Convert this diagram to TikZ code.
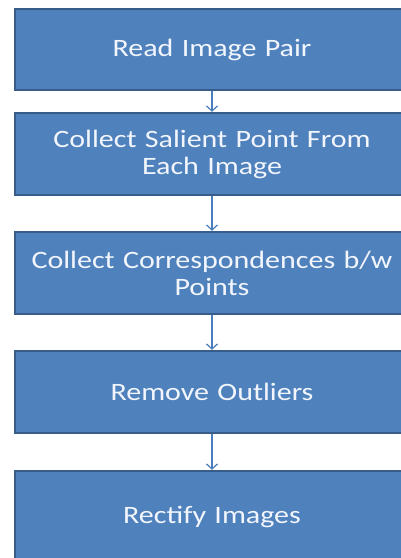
\documentclass[tikz,border=0pt]{standalone}
\usepackage{fontspec}
\setmainfont[FakeStretch=1.2]{Carlito}
\usetikzlibrary{arrows.meta}
\definecolor{boxfill}{RGB}{79,129,189}
\definecolor{boxedge}{RGB}{56,93,138}
\definecolor{flowline}{RGB}{74,126,187}
\definecolor{boxtext}{RGB}{242,246,252}
\tikzset{
  stepbox/.style={draw=boxedge, line width=2.5pt, fill=boxfill,
    minimum width=394pt, text width=380pt, align=center, inner sep=0pt,
    font=\fontsize{25pt}{27pt}\selectfont, text=boxtext},
  flow/.style={draw=flowline, line width=1.2pt,
    -{Straight Barb[length=5pt,width=11pt,line width=1.2pt]}}
}
\begin{document}
\begin{tikzpicture}[x=1pt,y=-1pt]
  \useasboundingbox (0,0) rectangle (401,558);
  \clip (0,0) rectangle (401,558);
  \node[stepbox, minimum height=81pt] (read) at (212,49.5) {Read Image Pair};
  \node[stepbox, minimum height=82pt] (salient) at (212,154) {Collect Salient Point From\\Each Image};
  \node[stepbox, minimum height=82pt] (corr) at (212,273) {Collect Correspondences b/w\\Points};
  \node[stepbox, minimum height=82pt] (outl) at (212,392) {Remove Outliers};
  \node[stepbox, minimum height=92pt] (rect) at (212,517) {Rectify Images};
  \draw[flow] (read.south) -- (salient.north);
  \draw[flow] (salient.south) -- (corr.north);
  \draw[flow] (corr.south) -- (outl.north);
  \draw[flow] (outl.south) -- (rect.north);
\end{tikzpicture}
\end{document}
